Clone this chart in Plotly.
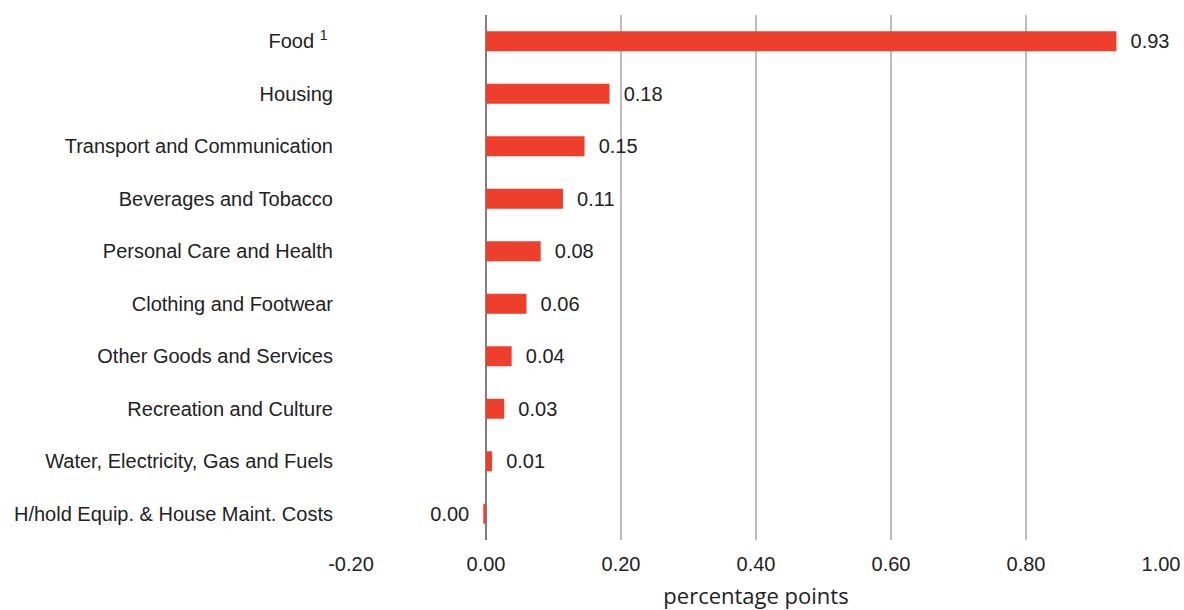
import plotly.graph_objects as go

categories = [
    "Food <sup>1</sup> ",
    "Housing",
    "Transport and Communication",
    "Beverages and Tobacco",
    "Personal Care and Health",
    "Clothing and Footwear",
    "Other Goods and Services",
    "Recreation and Culture",
    "Water, Electricity, Gas and Fuels",
    "H/hold Equip. & House Maint. Costs",
]
values = [0.934, 0.183, 0.146, 0.114, 0.081, 0.060, 0.038, 0.027, 0.009, -0.004]
x_ticks = [-0.2, 0.0, 0.2, 0.4, 0.6, 0.8, 1.0]
x_tick_labels = ["-0.20", "0.00", "0.20", "0.40", "0.60", "0.80", "1.00"]

nb = "\u00a0"
labels = []
for v in values:
    s = f"{abs(v):.2f}" if abs(v) < 0.005 else f"{v:.2f}"
    labels.append(s + nb * 2 if v < 0 else nb * 2 + s)

fig = go.Figure(
    go.Bar(
        y=categories,
        x=values,
        orientation="h",
        marker=dict(color="#EE3E2C", line=dict(width=0)),
        width=0.38,
        text=labels,
        textposition="outside",
        textfont=dict(family="Liberation Sans, Arial", size=20, color="#222222"),
        cliponaxis=False,
        constraintext="none",
        hoverinfo="skip",
    )
)

fig.update_layout(
    width=1184,
    height=610,
    margin=dict(l=351, r=23, t=15, b=70, autoexpand=False),
    paper_bgcolor="white",
    plot_bgcolor="white",
    showlegend=False,
    font=dict(family="Liberation Sans, Arial", size=20, color="#222222"),
    xaxis=dict(
        range=[-0.2, 1.0],
        tickvals=x_ticks,
        ticktext=x_tick_labels,
        automargin=False,
        showgrid=True,
        gridcolor="#BDBDBD",
        gridwidth=1.5,
        zeroline=True,
        zerolinecolor="#7F7F7F",
        zerolinewidth=1.5,
        showline=False,
        ticks="",
        ticklabelstandoff=10,
        tickfont=dict(size=20, color="#222222"),
        title=dict(
            text="percentage points",
            font=dict(family="Open Sans, Carlito, Calibri", size=22, color="#222222"),
            standoff=16,
        ),
    ),
    yaxis=dict(
        autorange="reversed",
        automargin=False,
        showgrid=False,
        zeroline=False,
        showline=False,
        ticks="",
        ticklabelstandoff=17,
        tickfont=dict(size=20, color="#222222"),
    ),
)

fig.write_html(
    "out.html",
    config={"displayModeBar": False},
    post_script="document.body.style.margin='0';document.body.style.overflow='hidden';",
)
